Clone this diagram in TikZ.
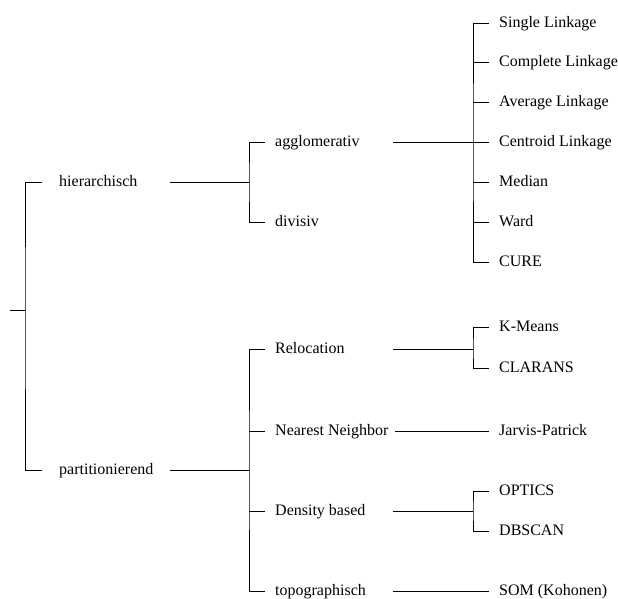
\documentclass[tikz,border=0pt]{standalone}
\usepackage{fontspec}
\setmainfont{Liberation Serif}
\begin{document}
\begin{tikzpicture}[x=1pt,y=-1pt,
  lbl/.style={anchor=west, inner xsep=0pt, inner ysep=0pt, text height=9.4pt, text depth=0pt, font=\fontsize{16}{18}\selectfont},
  conn/.style={draw=black, line width=0.9pt}]
\useasboundingbox (0,0) rectangle (618,599);
% level 1
\node[lbl] (hier) at (59,182) {hierarchisch};
\node[lbl] (part) at (59,470) {partitionierend};
% level 2
\node[lbl] (agglo) at (275,142) {agglomerativ};
\node[lbl] (divis) at (275,222) {divisiv};
\node[lbl] (reloc) at (275,349) {Relocation};
\node[lbl] (nn) at (275,431) {Nearest Neighbor};
\node[lbl] (dens) at (275,511) {Density based};
\node[lbl] (topo) at (275,591) {topographisch};
% level 3
\node[lbl] (single) at (499,23) {Single Linkage};
\node[lbl] (complete) at (499,62) {Complete Linkage};
\node[lbl] (average) at (499,102) {Average Linkage};
\node[lbl] (centroid) at (499,142) {Centroid Linkage};
\node[lbl] (median) at (499,182) {Median};
\node[lbl] (ward) at (499,222) {Ward};
\node[lbl] (cure) at (499,262) {CURE};
\node[lbl] (kmeans) at (499,327) {K-Means};
\node[lbl] (clarans) at (499,368) {CLARANS};
\node[lbl] (jarvis) at (499,431) {Jarvis-Patrick};
\node[lbl] (optics) at (499,491) {OPTICS};
\node[lbl] (dbscan) at (499,531) {DBSCAN};
\node[lbl] (som) at (499,591) {SOM (Kohonen)};
% junctions
\coordinate (root) at (10,310);
\coordinate (j0) at (25,310);
\coordinate (j1a) at (249,182);
\coordinate (j1b) at (249,470);
\coordinate (j2a) at (473,142);
\coordinate (j2r) at (473,349);
\coordinate (j2d) at (473,511);
% root
\draw[conn] (root) -- (j0);
\draw[conn] ([xshift=-17pt]hier.west) -| (j0) |- ([xshift=-17pt]part.west);
% hierarchisch
\draw[conn] ([xshift=111pt]hier.west) -- (j1a);
\draw[conn] ([xshift=-10pt]agglo.west) -| (j1a) |- ([xshift=-10pt]divis.west);
% partitionierend
\draw[conn] ([xshift=111pt]part.west) -- (j1b);
\draw[conn] ([xshift=-10pt]reloc.west) -| (j1b) |- ([xshift=-10pt]topo.west);
\draw[conn] (j1b |- nn.west) -- ([xshift=-10pt]nn.west);
\draw[conn] (j1b |- dens.west) -- ([xshift=-10pt]dens.west);
% agglomerativ
\draw[conn] ([xshift=118pt]agglo.west) -- (j2a);
\draw[conn] ([xshift=-10pt]single.west) -| (j2a) |- ([xshift=-10pt]cure.west);
\draw[conn] (j2a) -- ([xshift=-10pt]centroid.west);
\draw[conn] (j2a |- complete.west) -- ([xshift=-10pt]complete.west);
\draw[conn] (j2a |- average.west) -- ([xshift=-10pt]average.west);
\draw[conn] (j2a |- median.west) -- ([xshift=-10pt]median.west);
\draw[conn] (j2a |- ward.west) -- ([xshift=-10pt]ward.west);
% relocation
\draw[conn] ([xshift=118pt]reloc.west) -- (j2r);
\draw[conn] ([xshift=-10pt]kmeans.west) -| (j2r) |- ([xshift=-10pt]clarans.west);
% nearest neighbor
\draw[conn] ([xshift=120pt]nn.west) -- ([xshift=-10pt]jarvis.west);
% density based
\draw[conn] ([xshift=118pt]dens.west) -- (j2d);
\draw[conn] ([xshift=-10pt]optics.west) -| (j2d) |- ([xshift=-10pt]dbscan.west);
% topographisch
\draw[conn] ([xshift=118pt]topo.west) -- ([xshift=-10pt]som.west);
\end{tikzpicture}
\end{document}
